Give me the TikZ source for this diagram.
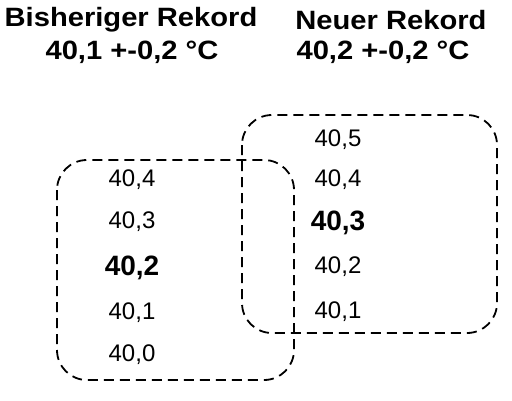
\documentclass[tikz,border=0pt]{standalone}
\usepackage{fontspec}
\setmainfont{Liberation Sans}
\newfontfamily\headfont[FakeStretch=1.1]{Liberation Sans}
\usepackage{tikz}
\usetikzlibrary{positioning}

\begin{document}
\begin{tikzpicture}[x=1pt,y=-1pt,every node/.style={inner sep=0pt,anchor=center},
   title/.style={font=\headfont\fontsize{26.5}{30}\selectfont\bfseries},
   val/.style={font=\fontsize{24}{26}\selectfont},
   best/.style={font=\fontsize{28}{30}\selectfont\bfseries},
   rangebox/.style={draw,line width=1.8pt,dash pattern=on 10pt off 6pt,rounded corners=30pt}]
\useasboundingbox (0,0) rectangle (512,400);
% titles
\node[title] (oldhead) at (131,20) {Bisheriger Rekord};
\node[title] (oldval) at (132,52) {40,1 +-0,2 °C};
\node[title] (newhead) at (391,20) {Neuer Rekord};
\node[title] (newval) at (383,52) {40,2 +-0,2 °C};
% old record range
\draw[rangebox] (57,160) rectangle (294,380);
\node[val] (o4) at (132,180) {40,4};
\node[val] (o3) at (132,222) {40,3};
\node[best] (o2) at (132,268) {40,2};
\node[val] (o1) at (132,313) {40,1};
\node[val] (o0) at (132,355) {40,0};
% new record range
\draw[rangebox] (242,115) rectangle (497,333);
\node[val] (n5) at (338,140) {40,5};
\node[val] (n4) at (338,180) {40,4};
\node[best] (n3) at (338,223) {40,3};
\node[val] (n2) at (338,267) {40,2};
\node[val] (n1) at (338,312) {40,1};
\end{tikzpicture}
\end{document}
